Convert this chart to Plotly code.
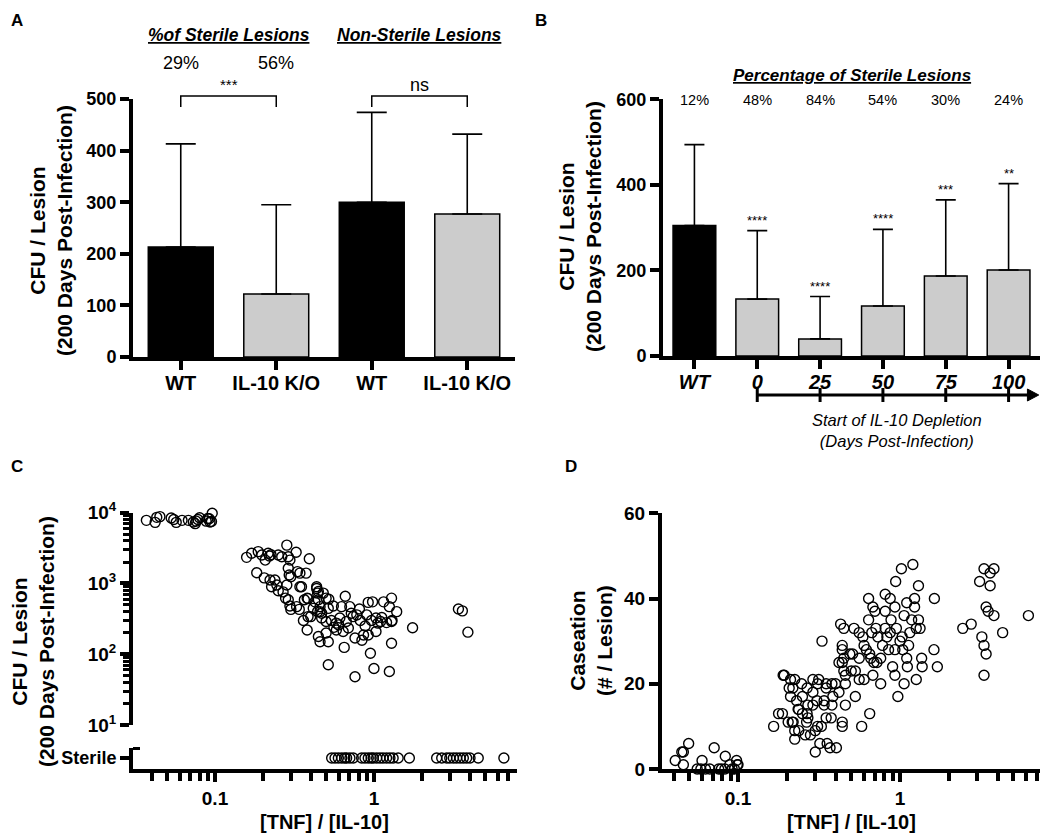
import plotly.graph_objects as go

W, H = 1050, 836
OFF = 8  # page body margin offset of the rendered figure
FONT = "Arial, Liberation Sans, sans-serif"

# ---------------- Panel A data ----------------
a_groups = ["WT", "IL-10 K/O", "WT", "IL-10 K/O"]
a_mean = [213, 122, 300, 277]
a_sd = [200, 173, 174, 155]
a_colors = ["black", "#cccccc", "black", "#cccccc"]
a_sterile_pct = ["29%", "56%"]
a_headers = ["%of Sterile Lesions", "Non-Sterile Lesions"]
a_sig = ["***", "ns"]

# ---------------- Panel B data ----------------
b_groups = ["WT", "0", "25", "50", "75", "100"]
b_mean = [305, 133, 40, 117, 187, 201]
b_sd = [189, 160, 99, 179, 178, 202]
b_colors = ["black", "#cccccc", "#cccccc", "#cccccc", "#cccccc", "#cccccc"]
b_pct = ["12%", "48%", "84%", "54%", "30%", "24%"]
b_sig = ["", "****", "****", "****", "***", "**"]

# ---------------- Panel C data ----------------
c_x = [0.037, 0.042, 0.043, 0.045, 0.053, 0.055, 0.057, 0.062, 0.068, 0.073,
       0.075, 0.076, 0.078, 0.080, 0.088, 0.090, 0.093, 0.096, 0.095, 0.092,
       0.158, 0.170, 0.187, 0.197, 0.207, 0.216, 0.220, 0.225, 0.250, 0.263,
       0.283, 0.289, 0.296, 0.324, 0.392,
       0.183, 0.204, 0.222, 0.238, 0.245, 0.227, 0.250, 0.268, 0.283, 0.289,
       0.293, 0.300, 0.330, 0.342, 0.374, 0.342, 0.278, 0.289, 0.296, 0.300,
       0.326, 0.339, 0.365, 0.385, 0.436, 0.442, 0.447, 0.458, 0.442, 0.469,
       0.500, 0.516, 0.385,
       0.350, 0.436, 0.447, 0.480, 0.380, 0.425, 0.520, 0.660, 0.555, 0.415,
       0.458, 0.625, 0.705, 0.810, 0.920, 0.980, 1.150, 1.290, 1.250, 1.390,
       0.360, 0.400, 0.469, 0.500, 0.540, 0.580, 0.610, 0.670, 0.740, 0.820,
       0.900, 0.965, 1.030, 1.060, 1.100, 1.290, 1.300, 0.380, 0.447, 0.458,
       0.516, 0.500, 0.580, 0.640, 0.690, 0.760, 0.840, 0.860, 0.920, 1.030,
       0.650, 1.290, 1.750, 3.400, 3.600, 3.900, 0.516, 0.950, 1.000, 1.250,
       0.760, 0.600, 0.720, 0.880, 1.120, 1.200, 0.560, 0.780]
c_y = [7800, 7300, 8600, 8800, 8400, 8000, 7300, 7800, 7800, 7400,
       7000, 7600, 8000, 8500, 7600, 8300, 7400, 9800, 7500, 8200,
       2340, 2670, 2820, 2520, 2140, 2670, 2450, 2550, 2520, 2390,
       3480, 2390, 2140, 2760, 2240,
       1420, 1200, 1120, 1120, 950, 900, 790, 760, 950, 1640,
       1320, 1250, 1470, 1400, 1400, 900, 620, 590, 480, 430,
       470, 430, 590, 610, 850, 730, 590, 470, 400, 380,
       620, 445, 340,
       900, 900, 770, 730, 620, 550, 600, 660, 480, 445,
       400, 470, 470, 435, 540, 550, 550, 620, 470, 400,
       300, 340, 325, 290, 300, 275, 325, 290, 340, 300,
       360, 300, 325, 275, 290, 290, 300, 220, 178, 150,
       150, 200, 220, 210, 235, 170, 158, 187, 187, 210,
       125, 143, 237, 435, 410, 205, 71, 103, 63, 57,
       48, 260, 380, 250, 330, 280, 240, 360]
c_sterile_x = [0.542, 0.569, 0.597, 0.627, 0.655, 0.673, 0.706, 0.741, 0.837, 0.878,
               0.921, 0.960, 0.990, 1.040, 1.090, 1.140, 1.200, 1.260, 1.320, 1.420,
               1.670, 2.480, 2.670, 2.870, 3.000, 3.160, 3.310, 3.480, 3.650, 3.830,
               4.020, 4.530, 6.570]
c_sterile_y = [0] * len(c_sterile_x)

# ---------------- Panel D data ----------------
d_x = [0.041, 0.045, 0.046, 0.0496, 0.046, 0.060, 0.059, 0.056, 0.063, 0.067,
       0.0713, 0.076, 0.079, 0.0835, 0.083, 0.089, 0.092, 0.098, 0.100, 0.095, 0.099,
       0.166, 0.178, 0.190, 0.193, 0.211, 0.207, 0.211, 0.204, 0.219, 0.224,
       0.224, 0.235, 0.247, 0.250, 0.250, 0.260, 0.265, 0.270, 0.290, 0.290,
       0.290, 0.300, 0.300, 0.310, 0.310, 0.320, 0.340, 0.340, 0.350, 0.350,
       0.350, 0.370, 0.380, 0.380, 0.385, 0.400, 0.430, 0.420, 0.450, 0.440,
       0.440, 0.440, 0.440, 0.450, 0.450, 0.460, 0.460, 0.460, 0.490, 0.500,
       0.510, 0.520, 0.530, 0.530, 0.560, 0.560, 0.560, 0.580, 0.590, 0.600,
       0.620, 0.640, 0.640, 0.650, 0.650, 0.660, 0.670, 0.680, 0.680, 0.690,
       0.700, 0.720, 0.730, 0.760, 0.760, 0.810, 0.810, 0.810, 0.830, 0.850,
       0.870, 0.870, 0.900, 0.930, 0.930, 0.930, 0.940, 0.950, 0.970, 1.020,
       1.030, 1.040, 1.060, 1.060, 1.100, 1.100, 1.110, 1.130, 1.150, 1.200,
       1.230, 1.230, 1.260, 1.260, 1.300, 1.300, 1.330, 1.360, 1.370, 1.630,
       1.620, 1.700, 2.440, 2.750, 3.100, 3.300, 3.200, 3.300, 3.300, 3.400,
       3.400, 3.500, 3.600, 3.800, 3.600, 3.800, 4.300, 6.200,
       0.188, 0.224, 0.218, 0.230, 0.237, 0.267, 0.216, 0.237, 0.267, 0.280,
       0.307, 0.315, 0.327, 0.355, 0.376, 0.405, 0.420, 0.440, 0.270, 0.330,
       0.780, 0.880, 1.000, 1.180, 0.600, 0.710]
d_y = [2, 4, 4, 6, 1, 2, 0, 0, 0, 0,
       5, 0, 0, 3, 0, 1, 0, 2, 1, 0, 1,
       10, 13, 22, 22, 21, 19, 17, 11, 11, 9,
       7, 14, 20, 17, 13, 8, 11, 15, 15, 21,
       18, 4, 9, 20, 10, 6, 16, 15, 19, 12,
       20, 5, 20, 15, 17, 20, 34, 25, 33, 10,
       11, 29, 28, 26, 23, 22, 15, 20, 27, 23,
       27, 33, 17, 23, 32, 26, 21, 10, 31, 21,
       28, 40, 35, 27, 13, 26, 32, 22, 38, 25,
       37, 25, 31, 26, 20, 41, 37, 33, 31, 28,
       32, 40, 24, 28, 22, 38, 44, 33, 17, 47,
       31, 28, 36, 20, 39, 26, 24, 29, 32, 48,
       38, 40, 33, 21, 43, 35, 33, 26, 24, 40,
       28, 24, 33, 34, 44, 47, 31, 29, 22, 27,
       38, 37, 46, 47, 43, 36, 32, 36,
       13, 21, 19, 16, 14, 13, 11, 9, 19, 8,
       16, 21, 10, 6, 12, 5, 18, 25, 12, 30,
       29, 35, 30, 35, 29, 33]


def px(x):
    return (x - OFF) / W


def py(y):
    return 1 - (y - OFF) / H


def fnt(size, bold=False, italic=False, under=False):
    d = dict(family=FONT, size=size, color="black",
             weight="bold" if bold else "normal",
             style="italic" if italic else "normal")
    if under:
        d["lineposition"] = "under"
    return d


fig = go.Figure()

# Panel A bars
fig.add_trace(go.Bar(
    x=list(range(len(a_groups))), y=a_mean, width=0.68,
    marker=dict(color=a_colors, line=dict(color="black", width=1.5)),
    error_y=dict(type="data", array=a_sd, arrayminus=[0] * len(a_sd), symmetric=False,
                 color="black", thickness=1.6, width=15),
    xaxis="x", yaxis="y", showlegend=False))

# Panel B bars
fig.add_trace(go.Bar(
    x=list(range(len(b_groups))), y=b_mean, width=0.68,
    marker=dict(color=b_colors, line=dict(color="black", width=1.5)),
    error_y=dict(type="data", array=b_sd, arrayminus=[0] * len(b_sd), symmetric=False,
                 color="black", thickness=1.6, width=10),
    xaxis="x2", yaxis="y2", showlegend=False))

mk = dict(symbol="circle-open", size=10, color="black", line=dict(width=1.4, color="black"))
fig.add_trace(go.Scatter(x=c_x, y=c_y, mode="markers", marker=mk, cliponaxis=False,
                         xaxis="x3", yaxis="y3", showlegend=False))
fig.add_trace(go.Scatter(x=c_sterile_x, y=c_sterile_y, mode="markers", marker=mk, cliponaxis=False,
                         xaxis="x3", yaxis="y4", showlegend=False))
fig.add_trace(go.Scatter(x=d_x, y=d_y, mode="markers", marker=mk, cliponaxis=False,
                         xaxis="x4", yaxis="y5", showlegend=False))

ax_common = dict(showline=True, linewidth=4, linecolor="black", ticks="outside",
                 tickwidth=4, tickcolor="black", ticklen=9, showgrid=False, zeroline=False,
                 fixedrange=True)

log_minor_x = [k * 10 ** e for e in (-2, -1, 0) for k in range(2, 10)]
log_minor_y = [k * 10 ** e for e in (1, 2, 3) for k in range(2, 10)]

fig.update_layout(
    width=W, height=H, margin=dict(l=0, r=0, t=0, b=0, pad=0, autoexpand=False),
    paper_bgcolor="white", plot_bgcolor="white",
    font=dict(family=FONT, color="black"),
    xaxis=dict(domain=[px(133), px(515)], range=[-0.5, 3.5], anchor="y",
               tickvals=list(range(4)), ticktext=a_groups, tickfont=fnt(20, True),
               ticklabelstandoff=-4, **ax_common),
    yaxis=dict(domain=[py(357), py(99)], range=[0, 500], dtick=100, anchor="x",
               tickfont=fnt(18, True), **ax_common),
    xaxis2=dict(domain=[px(663), px(1040)], range=[-0.5, 5.5], anchor="y2",
                tickvals=list(range(6)), ticktext=b_groups, tickfont=fnt(20, True, True),
                ticklabelstandoff=-4, **ax_common),
    yaxis2=dict(domain=[py(356), py(99.3)], range=[0, 600], dtick=200, anchor="x2",
                tickfont=fnt(18, True), **ax_common),
    xaxis3=dict(domain=[px(133), px(517)], type="log", range=[-1.516, 0.9], anchor="y4",
                tickvals=[0.1, 1], ticktext=["0.1", "1"], tickfont=fnt(19, True),
                minor=dict(tickvals=log_minor_x, ticks="outside", ticklen=8, tickwidth=4,
                           tickcolor="black", showgrid=False),
                **ax_common),
    yaxis3=dict(domain=[py(725), py(512.7)], type="log", range=[1, 4], anchor="x3",
                tickvals=[10, 100, 1000, 10000],
                ticktext=["10<sup>1</sup>", "10<sup>2</sup>", "10<sup>3</sup>", "10<sup>4</sup>"],
                tickfont=fnt(19, True),
                minor=dict(tickvals=log_minor_y, ticks="outside", ticklen=6, tickwidth=3,
                           tickcolor="black", showgrid=False),
                **ax_common),
    yaxis4=dict(domain=[py(769), py(748)], range=[-1, 0.91], anchor="x3",
                tickvals=[0], ticktext=["Sterile"], tickfont=fnt(18, True), **ax_common),
    xaxis4=dict(domain=[px(662), px(1040)], type="log", range=[-1.469, 0.864], anchor="y5",
                tickvals=[0.1, 1], ticktext=["0.1", "1"], tickfont=fnt(19, True),
                minor=dict(tickvals=log_minor_x, ticks="outside", ticklen=8, tickwidth=4,
                           tickcolor="black", showgrid=False),
                **ax_common),
    yaxis5=dict(domain=[py(769), py(513.3)], range=[0, 60], dtick=20, anchor="x4",
                tickfont=fnt(19, True), **ax_common),
)

ann = []


def text(t, x, y, f, xref="paper", yref="paper", xanchor="center", yanchor="middle", angle=0, yshift=0):
    ann.append(dict(text=t, x=x, y=y, xref=xref, yref=yref, showarrow=False, font=f,
                    xanchor=xanchor, yanchor=yanchor, textangle=angle, yshift=yshift))


# panel letters
text("A", px(9), py(9), fnt(17, True), xanchor="left", yanchor="top")
text("B", px(533), py(9), fnt(17, True), xanchor="left", yanchor="top")
text("C", px(9), py(467), fnt(17, True), xanchor="left")
text("D", px(563), py(467), fnt(17, True), xanchor="left")

# axis titles
text("CFU / Lesion<br>(200 Days Post-Infection)", px(51), py(231), fnt(21, True), angle=-90)
text("CFU / Lesion<br>(200 Days Post-Infection)", px(580), py(227), fnt(21, True), angle=-90)
text("CFU / Lesion<br>(200 Days Post-Infection)", px(33), py(642), fnt(21, True), angle=-90)
text("Caseation<br>(# / Lesion)", px(591), py(641), fnt(21, True), angle=-90)
text("[TNF] / [IL-10]", px(324), py(822), fnt(20, True))
text("[TNF] / [IL-10]", px(851), py(822), fnt(20, True))

# Panel A annotations
text(a_headers[0], 0.5, py(35), fnt(17.5, True, True, True), xref="x")
text(a_headers[1], 2.5, py(35), fnt(17.5, True, True, True), xref="x")
for i, p in enumerate(a_sterile_pct):
    text(p, i, py(63), fnt(18), xref="x")
text(a_sig[0], 0.5, py(84), fnt(15), xref="x")
text(a_sig[1], 2.5, py(85), fnt(18), xref="x")

# Panel B annotations
text("Percentage of Sterile Lesions", 2.5, py(75), fnt(17, True, True, True), xref="x2")
for i, p in enumerate(b_pct):
    text(p, i, py(100), fnt(14.5), xref="x2")
for i, s in enumerate(b_sig):
    if s:
        text(s, i, b_mean[i] + b_sd[i], fnt(13), xref="x2", yref="y2", yanchor="bottom", yshift=1)
text("Start of IL-10 Depletion<br>(Days Post-Infection)", px(897), py(431), fnt(16.5, False, True))

fig.update_layout(annotations=ann)

shapes = []
# A brackets
for i0, i1 in [(0, 1), (2, 3)]:
    shapes.append(dict(type="path", xref="x", yref="paper",
                       path=f"M {i0},{py(107)} L {i0},{py(96)} L {i1},{py(96)} L {i1},{py(107)}",
                       line=dict(color="black", width=1.5)))
# B arrow timeline
shapes.append(dict(type="line", xref="x2", yref="paper", x0=1, x1=5.36, y0=py(395), y1=py(395),
                   line=dict(color="black", width=3)))
for i in range(1, len(b_groups)):
    shapes.append(dict(type="line", xref="x2", yref="paper", x0=i, x1=i, y0=py(388), y1=py(402),
                       line=dict(color="black", width=3)))
shapes.append(dict(type="path", xref="x2", yref="paper",
                   path=f"M 5.3,{py(389)} L 5.48,{py(395)} L 5.3,{py(401)} Z",
                   fillcolor="black", line=dict(color="black", width=1)))
# C sterile axis bracket cap
shapes.append(dict(type="line", xref="paper", yref="paper", x0=px(133), x1=px(140),
                   y0=py(748.5), y1=py(748.5), line=dict(color="black", width=3)))
fig.update_layout(shapes=shapes)

fig.write_html("out.html")
